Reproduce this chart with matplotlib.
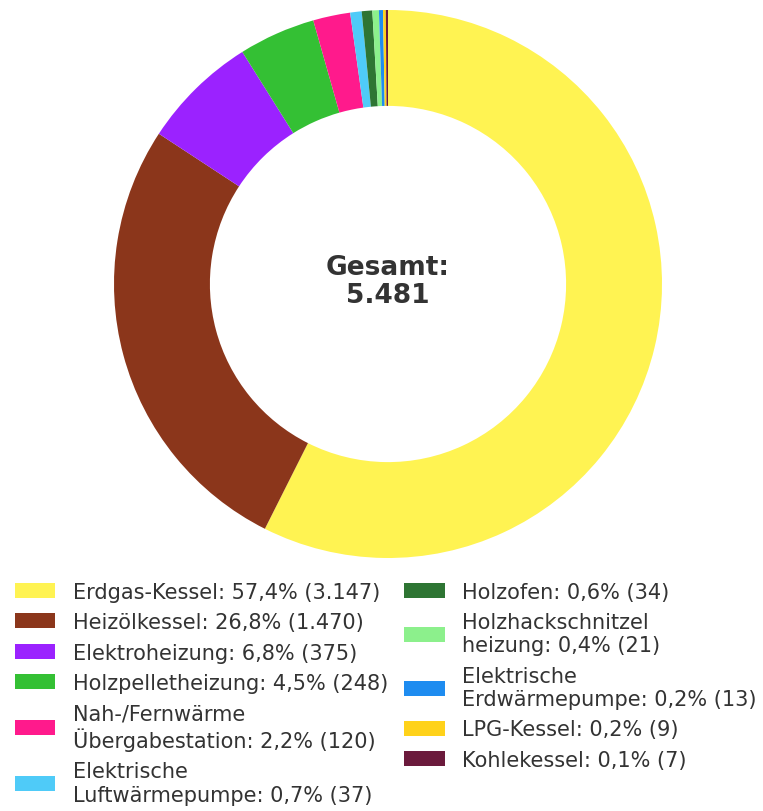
import matplotlib

matplotlib.use("Agg")
import matplotlib.pyplot as plt
from matplotlib.patches import Patch

names = [
    "Erdgas-Kessel",
    "Heizölkessel",
    "Elektroheizung",
    "Holzpelletheizung",
    "Nah-/Fernwärme\nÜbergabestation",
    "Elektrische\nLuftwärmepumpe",
    "Holzofen",
    "Holzhackschnitzel\nheizung",
    "Elektrische\nErdwärmepumpe",
    "LPG-Kessel",
    "Kohlekessel",
]
counts = [3147, 1470, 375, 248, 120, 37, 34, 21, 13, 9, 7]
colors = [
    "#FFF352", "#8B361B", "#9B22FF", "#34C034", "#FF1A8C", "#4FCBF8",
    "#2E7533", "#8CF08C", "#1E8CF0", "#FFD21A", "#6B1A3C",
]

total = sum(counts)


def de_int(value: int) -> str:
    return f"{value:,}".replace(",", ".")


labels = [
    f"{name}: {count / total * 100:.1f}".replace(".", ",") + f"% ({de_int(count)})"
    for name, count in zip(names, counts)
]

fig = plt.figure(figsize=(7.63, 8.12), dpi=100)
ax = fig.add_axes([114 / 763, 1 - 559 / 812, 548 / 763, 548 / 812])
ax.pie(
    counts,
    colors=colors,
    startangle=90,
    counterclock=False,
    wedgeprops=dict(width=0.35, edgecolor="none"),
)
ax.set_xlim(-1, 1)
ax.set_ylim(-1, 1)
ax.set_aspect("equal")
ax.text(
    0, 0.01, f"Gesamt:\n{de_int(total)}",
    ha="center", va="center", fontsize=19, fontweight="bold", color="#333333",
    linespacing=1.08,
)

handles = [Patch(facecolor=c, edgecolor="none") for c in colors]
fig.legend(
    handles,
    labels,
    loc="upper left",
    bbox_to_anchor=(-4 / 763, 1 - 564 / 812),
    ncol=2,
    frameon=False,
    fontsize=15,
    handlelength=1.95,
    handleheight=0.72,
    handletextpad=0.85,
    columnspacing=0.75,
    labelspacing=0.5,
    labelcolor="#333333",
)

fig.savefig("out.png", dpi=100)
plt.close(fig)
